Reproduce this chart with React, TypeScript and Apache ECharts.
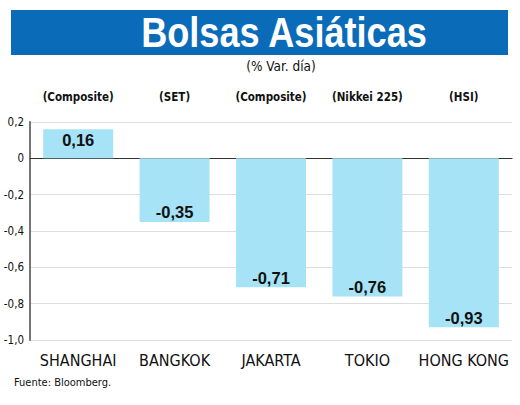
import React, { useEffect, useRef } from "react";
import * as echarts from "echarts";

const categories = ["SHANGHAI", "BANGKOK", "JAKARTA", "TOKIO", "HONG KONG"];
const indexNames = ["(Composite)", "(SET)", "(Composite)", "(Nikkei 225)", "(HSI)"];
const values = [0.16, -0.35, -0.71, -0.76, -0.93];
const yMin = -1.0;
const yMax = 0.2;
const yStep = 0.2;

const COND = "'DejaVu Sans Condensed', 'DejaVu Sans', sans-serif";
const SANS = "'Liberation Sans', Arial, sans-serif";

const fmtTick = (v: number) => {
  if (Math.abs(v) < 1e-9) return "0";
  return v.toFixed(1).replace(".", ",");
};

export default function App() {
  const ref = useRef<HTMLDivElement>(null);
  useEffect(() => {
    document.body.style.margin = "0";
    const chart = echarts.init(ref.current!, undefined, { renderer: "svg" });
    chart.setOption({
      animation: false,
      backgroundColor: "#ffffff",
      graphic: [
        { type: "rect", shape: { x: 11, y: 10, width: 497, height: 45 }, style: { fill: "#0a6cb8" } },
        {
          type: "text",
          x: 284,
          y: 33,
          scaleX: 0.86,
          style: {
            text: "Bolsas Asiáticas",
            fill: "#ffffff",
            fontFamily: SANS,
            fontWeight: "bold",
            fontSize: 42,
            align: "center",
            verticalAlign: "middle",
          },
        },
        {
          type: "text",
          x: 281,
          y: 66,
          style: {
            text: "(% Var. día)",
            fill: "#111111",
            fontFamily: COND,
            fontSize: 13.5,
            align: "center",
            verticalAlign: "middle",
          },
        },
        {
          type: "text",
          x: 14,
          y: 382,
          style: {
            text: "Fuente: Bloomberg.",
            fill: "#111111",
            fontFamily: COND,
            fontSize: 11,
            align: "left",
            verticalAlign: "middle",
          },
        },
      ],
      grid: { left: 30, right: 8, top: 122, bottom: 65, containLabel: false },
      xAxis: [
        {
          type: "category",
          data: categories,
          axisLine: { onZero: true, lineStyle: { color: "#333333", width: 1.2 } },
          axisTick: { show: false },
          axisLabel: { show: false },
          splitLine: { show: false },
        },
        {
          type: "category",
          data: categories,
          position: "bottom",
          axisLine: { show: false, onZero: false },
          axisTick: { show: false },
          splitLine: { show: false },
          axisLabel: {
            color: "#111111",
            fontFamily: COND,
            fontSize: 16,
            margin: 12,
            interval: 0,
          },
        },
        {
          type: "category",
          data: indexNames,
          position: "top",
          axisLine: { show: false, onZero: false },
          axisTick: { show: false },
          splitLine: { show: false },
          axisLabel: {
            color: "#111111",
            fontFamily: COND,
            fontWeight: "bold",
            fontSize: 11.5,
            margin: 19,
            interval: 0,
          },
        },
      ],
      yAxis: {
        type: "value",
        min: yMin,
        max: yMax,
        interval: yStep,
        axisLine: { show: true, lineStyle: { color: "#666666", width: 1.8 } },
        axisTick: { show: false },
        axisLabel: {
          formatter: fmtTick,
          color: "#111111",
          fontFamily: COND,
          fontSize: 11.5,
          margin: 6,
        },
        splitLine: { show: true, lineStyle: { color: "#dddddd", width: 1 } },
      },
      series: [
        {
          type: "bar",
          xAxisIndex: 0,
          barWidth: 70,
          itemStyle: { color: "#a6e3f7" },
          data: values.map((v) => ({
            value: v,
            label: {
              show: true,
              position: v >= 0 ? "insideTop" : "insideBottom",
              distance: v >= 0 ? 2 : 1,
              formatter: () => v.toFixed(2).replace(".", ","),
              color: "#111111",
              fontFamily: SANS,
              fontWeight: "bold",
              fontSize: 16.5,
            },
          })),
        },
      ],
    });
    return () => chart.dispose();
  }, []);
  return <div ref={ref} style={{ width: 520, height: 405 }} />;
}
